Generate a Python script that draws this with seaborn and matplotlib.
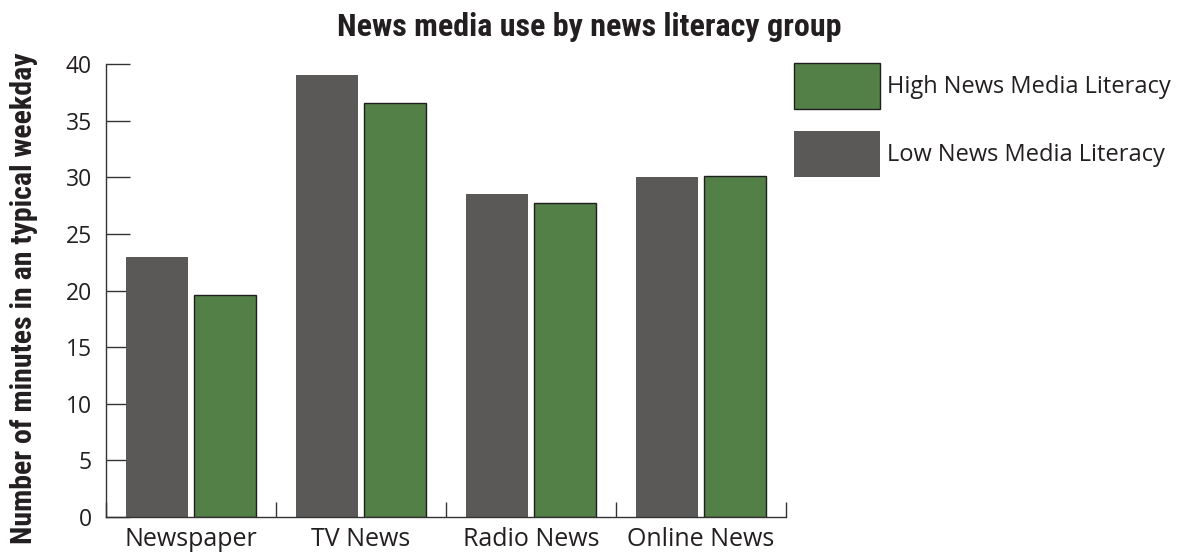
import matplotlib
matplotlib.use("Agg")
import matplotlib.pyplot as plt
import seaborn as sns
import pandas as pd
from matplotlib.patches import Patch

# Data: average minutes of news use per weekday
categories = ["Newspaper", "TV News", "Radio News", "Online News"]
low_literacy = [23.0, 39.0, 28.5, 30.0]
high_literacy = [19.6, 36.6, 27.7, 30.1]
groups = ["Low News Media Literacy", "High News Media Literacy"]
y_ticks = [0, 5, 10, 15, 20, 25, 30, 35, 40]

GREY = "#5a5957"
GREEN = "#538046"
INK = "#231f20"
HEAD_FONT = ["Roboto Condensed", "DejaVu Sans"]

df = pd.DataFrame({
    "medium": categories * 2,
    "minutes": low_literacy + high_literacy,
    "group": [groups[0]] * len(categories) + [groups[1]] * len(categories),
})

sns.set_theme(style="white")
plt.rcParams["font.family"] = ["Open Sans", "DejaVu Sans"]

fig = plt.figure(figsize=(11.78, 5.54), dpi=100)
ax = fig.add_axes([106 / 1178, 1 - 517 / 554, 680 / 1178, (517 - 64) / 554])

sns.barplot(
    data=df, x="medium", y="minutes", hue="group", order=categories,
    hue_order=groups, palette={groups[0]: GREY, groups[1]: GREEN},
    width=0.8, gap=0.09, saturation=1, ax=ax, legend=False,
)

# grey bars without outline, green bars with a thin dark outline
for bar in ax.containers[0]:
    bar.set_edgecolor("none")
for bar in ax.containers[1]:
    bar.set_edgecolor("#1e1e1e")
    bar.set_linewidth(1.0)

ax.set_xlim(-0.5, len(categories) - 0.5)
ax.set_ylim(0, 40)
ax.set_yticks(y_ticks)
ax.set_yticklabels([str(t) for t in y_ticks])

# category ticks sit on the group boundaries, labels at the group centres
ax.set_xticks([i - 0.5 for i in range(len(categories) + 1)])
ax.set_xticklabels([])
ax.set_xticks(range(len(categories)), minor=True)
ax.set_xticklabels(categories, minor=True)
ax.tick_params(axis="x", which="major", direction="in", length=11, width=1.0,
               color="#333333", bottom=True)
ax.tick_params(axis="x", which="minor", length=0, pad=7, labelsize=18,
               labelcolor=INK)
ax.tick_params(axis="y", direction="in", length=17, width=1.0, color="#333333",
               left=True, pad=10, labelsize=16.5, labelcolor=INK)

for side in ("top", "right"):
    ax.spines[side].set_visible(False)
for side in ("left", "bottom"):
    ax.spines[side].set_color("#333333")
    ax.spines[side].set_linewidth(1.0)

ax.set_xlabel("")
ax.set_ylabel("Number of minutes in an typical weekday", fontsize=21.5,
              fontweight="bold", color=INK, family=HEAD_FONT)
ax.yaxis.set_label_coords(-0.1, 0.484)

fig.suptitle("News media use by news literacy group", x=0.5, y=0.978,
             fontsize=23, fontweight="bold", color=INK, family=HEAD_FONT)

# legend to the right of the plot, high literacy first
handles = [
    Patch(facecolor=GREEN, edgecolor="#1e1e1e", linewidth=1.0),
    Patch(facecolor=GREY, edgecolor="none"),
]
fig.legend(
    handles, [groups[1], groups[0]], loc="upper left",
    bbox_to_anchor=(794 / 1178, 1 - 63 / 554), frameon=False,
    fontsize=17, handlelength=3.64, handleheight=2.62, handletextpad=0.3,
    labelspacing=0.93, borderpad=0, borderaxespad=0, labelcolor=INK,
)

fig.savefig("out.png", dpi=100)
